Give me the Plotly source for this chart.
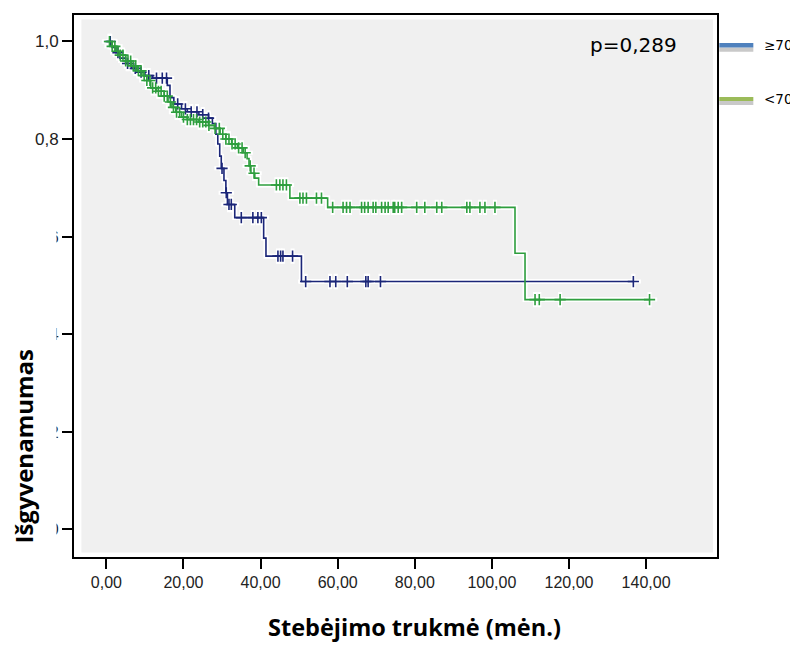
import numpy as np
import plotly.graph_objects as go

# ---------------- data ----------------
# group >=70 : step times (months) and survival after each step
old_t = [0, 1.5, 2.5, 3.5, 5.0, 6.5, 8.0, 10.0, 12.0, 15.8, 16.5, 17.5, 19.5, 21.0,
         24.0, 26.5, 27.5, 28.4, 28.9, 29.4, 29.8, 30.5, 31.0, 31.4, 33.3, 40.8,
         41.4, 50.6]
old_s = [1.0, 0.988, 0.977, 0.966, 0.955, 0.945, 0.937, 0.930, 0.925, 0.910, 0.885,
         0.872, 0.862, 0.856, 0.850, 0.843, 0.832, 0.810, 0.790, 0.765, 0.740, 0.715,
         0.690, 0.666, 0.639, 0.597, 0.560, 0.508]
old_cens = [1.0, 3.0, 5.5, 7.5, 9.0, 11.0, 13.0, 14.5, 15.6, 18.5, 20.5, 22.0, 23.5,
            25.0, 26.5, 30.0, 31.1, 31.8, 32.4, 35.0, 38.0, 39.3, 40.2, 44.5, 45.2,
            45.8, 48.3, 51.7, 58.0, 59.5, 62.5, 67.3, 67.9, 71.1, 136.7]

# group <70
young_t = [0, 1.5, 2.5, 3.5, 5.0, 6.5, 8.0, 9.5, 10.5, 11.5, 13.0, 15.0, 16.0, 17.0,
           18.0, 19.5, 21.0, 24.0, 26.5, 28.0, 29.5, 31.0, 32.5, 34.0, 35.5, 36.5,
           37.0, 37.5, 38.5, 39.5, 47.6, 57.4, 106.0, 108.6]
young_s = [1.0, 0.990, 0.980, 0.972, 0.960, 0.950, 0.940, 0.930, 0.920, 0.905, 0.898,
           0.888, 0.876, 0.865, 0.855, 0.845, 0.840, 0.835, 0.828, 0.822, 0.810, 0.800,
           0.790, 0.782, 0.772, 0.760, 0.745, 0.730, 0.720, 0.706, 0.679, 0.660,
           0.566, 0.471]
young_cens = [0.8, 1.5, 2.2, 3.0, 3.6, 4.3, 5.0, 5.6, 6.3, 7.0, 7.6, 8.3, 9.0, 9.8,
              10.5, 11.3, 12.0, 12.8, 13.5, 14.2, 15.0, 15.8, 16.6, 17.4, 18.2, 19.0,
              20.0, 21.0, 21.8, 22.6, 23.4, 24.2, 25.0, 25.8, 26.6, 28.2, 29.3, 30.2,
              31.0, 31.8, 32.6, 33.4, 34.3, 35.2, 36.0, 37.3, 38.3, 44.1, 45.0, 45.8,
              46.7, 50.2, 51.0, 51.9, 54.5, 55.8, 58.7, 61.4, 62.3, 63.2, 66.2, 67.0,
              67.9, 69.2, 69.9, 71.4, 72.3, 73.1, 74.4, 74.8, 75.7, 76.6, 80.5, 82.6,
              85.7, 87.0, 93.5, 94.3, 96.9, 98.2, 100.8, 111.2, 112.3, 117.7, 140.9]

x_tickvals = [0, 20, 40, 60, 80, 100, 120, 140]
x_ticktext = ["0,00", "20,00", "40,00", "60,00", "80,00", "100,00", "120,00", "140,00"]
y_tickvals = [0, 0.2, 0.4, 0.6, 0.8, 1.0]
y_ticktext = ["0,0", "0,2", "0,4", "0,6", "0,8", "1,0"]

legend_labels = ["≥70", "<70"]
p_text = "p=0,289"

BLUE = "#1b2678"
GREEN = "#2e9e3e"


def step_line(t, s, cens):
    end = max(cens)
    return list(t) + [end], list(s) + [s[-1]]


def cens_y(t, s, cens):
    idx = np.searchsorted(np.array(t), np.array(cens), side="right") - 1
    return [s[i] for i in idx]


fig = go.Figure()

groups = [(old_t, old_s, old_cens, BLUE), (young_t, young_s, young_cens, GREEN)]

# white halos first
for t, s, c, col in groups:
    lx, ly = step_line(t, s, c)
    fig.add_trace(go.Scatter(x=lx, y=ly, mode="lines", line=dict(color="white", width=5, shape="hv"),
                             hoverinfo="skip", showlegend=False))
    fig.add_trace(go.Scatter(x=c, y=cens_y(t, s, c), mode="markers",
                             marker=dict(symbol="cross-thin", size=11, line=dict(color="white", width=4)),
                             hoverinfo="skip", showlegend=False))

for t, s, c, col in groups:
    lx, ly = step_line(t, s, c)
    fig.add_trace(go.Scatter(x=lx, y=ly, mode="lines", line=dict(color=col, width=1.6, shape="hv"),
                             showlegend=False))
    fig.add_trace(go.Scatter(x=c, y=cens_y(t, s, c), mode="markers",
                             marker=dict(symbol="cross-thin", size=8, line=dict(color=col, width=1.6)),
                             showlegend=False))

shapes = [
    # inner gray panel
    dict(type="rect", xref="paper", yref="paper", x0=0.0115, x1=0.9938, y0=0.0081, y1=0.9915,
         fillcolor="#f0f0f0", line=dict(width=0), layer="below"),
    # mask over truncated tick labels (as in the reference)
    dict(type="rect", xref="paper", yref="paper", x0=-0.2, x1=-0.0272, y0=-0.06, y1=0.628,
         fillcolor="white", line=dict(width=0), layer="above"),
    # legend swatches
    dict(type="rect", xref="paper", yref="paper", x0=1.0036, x1=1.0565, y0=0.932, y1=0.9401,
         fillcolor="#c9c9c9", line=dict(width=0)),
    dict(type="rect", xref="paper", yref="paper", x0=1.0036, x1=1.0565, y0=0.9401, y1=0.9485,
         fillcolor="#4f81bd", line=dict(width=0)),
    dict(type="rect", xref="paper", yref="paper", x0=1.0036, x1=1.0565, y0=0.834, y1=0.8413,
         fillcolor="#c9c9c9", line=dict(width=0)),
    dict(type="rect", xref="paper", yref="paper", x0=1.0036, x1=1.0565, y0=0.8413, y1=0.8487,
         fillcolor="#9bbb59", line=dict(width=0)),
]

annotations = [
    dict(text=p_text, x=0.8697, y=0.9443, xref="paper", yref="paper", showarrow=False,
         xanchor="center", yanchor="middle", font=dict(family="DejaVu Sans", size=20, color="black")),
    dict(text=legend_labels[0], x=1.0705, y=0.9443, xref="paper", yref="paper", showarrow=False,
         xanchor="left", yanchor="middle", font=dict(family="DejaVu Sans", size=13.5, color="black")),
    dict(text=legend_labels[1], x=1.0705, y=0.845, xref="paper", yref="paper", showarrow=False,
         xanchor="left", yanchor="middle", font=dict(family="DejaVu Sans", size=13.5, color="black")),
    dict(text="<b>Stebėjimo trukmė (mėn.)</b>", x=0.530, y=-0.1292, xref="paper", yref="paper",
         showarrow=False, xanchor="center", yanchor="middle", borderpad=0,
         font=dict(family="Open Sans", size=23.5, color="black")),
    dict(text="<b>Išgyvenamumas</b>", x=-0.0783, y=0.205, xref="paper", yref="paper",
         showarrow=False, xanchor="center", yanchor="middle", textangle=-90,
         font=dict(family="Open Sans", size=24, color="black")),
]

# the page body has an 8 px margin, so the figure is 8 px smaller and margins shifted
fig.update_layout(
    width=790, height=638, autosize=False,
    margin=dict(l=66, r=81, t=5, b=89),
    paper_bgcolor="white", plot_bgcolor="white",
    shapes=shapes, annotations=annotations, showlegend=False,
    font=dict(family="Liberation Sans, Arial", color="#222222"),
)
fig.update_xaxes(range=[-8.4, 158.4], tickvals=x_tickvals, ticktext=x_ticktext,
                 showgrid=False, zeroline=False, showline=True, linecolor="black", linewidth=2,
                 mirror=True, ticks="outside", ticklen=10, tickwidth=2, tickcolor="black",
                 tickfont=dict(family="Liberation Sans, Arial", size=16, color="#222222"))
fig.update_yaxes(range=[-0.0566, 1.0543], tickvals=y_tickvals, ticktext=y_ticktext,
                 showgrid=False, zeroline=False, showline=True, linecolor="black", linewidth=2,
                 mirror=True, ticks="outside", ticklen=10, tickwidth=2, tickcolor="black",
                 tickfont=dict(family="Liberation Sans, Arial", size=17, color="#222222"))

fig.write_html("out.html")
